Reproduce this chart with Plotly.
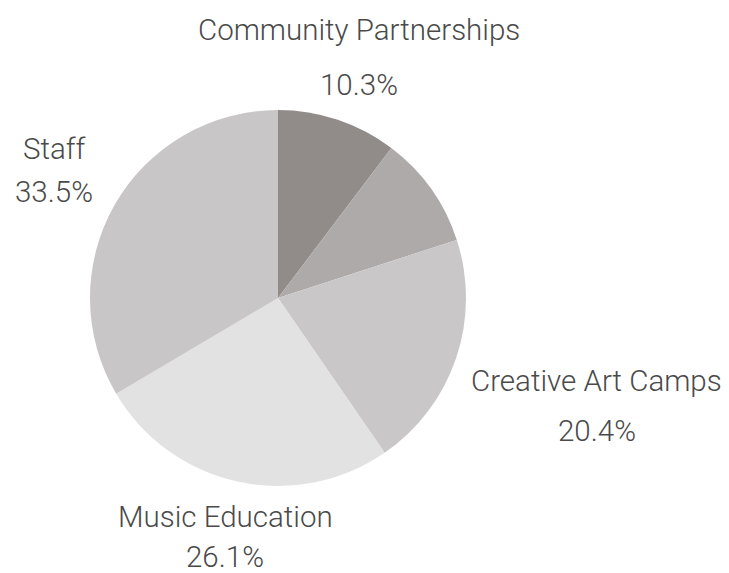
import math
import plotly.graph_objects as go

labels = ["Community Partnerships", "Other", "Creative Art Camps", "Music Education", "Staff"]
values = [10.3, 9.7, 20.4, 26.1, 33.5]
colors = ["#918b8a", "#aeaaaa", "#c9c7c7", "#e2e2e2", "#c8c6c7"]
show_label = [True, False, True, True, True]

# layout parameters for the outside labels (radius as multiple of pie radius, line gap px)
label_radius = [1.35, 1.35, 1.79, 1.30, 1.37]
label_gap = [55, 50, 50, 40, 43]

W, H = 729, 573
CX, CY, R = 270, 290, 188
FONT = dict(family="Roboto, 'Open Sans', sans-serif", size=29.5, color="#4a4a4a", weight=300)

fig = go.Figure(go.Pie(
    labels=labels,
    values=values,
    sort=False,
    direction="clockwise",
    rotation=0,
    marker=dict(colors=colors, line=dict(width=0)),
    textinfo="none",
    hoverinfo="label+percent",
    showlegend=False,
    domain=dict(x=[(CX - R) / W, (CX + R) / W], y=[(H - CY - R) / H, (H - CY + R) / H]),
))

total = sum(values)
cum = 0.0
annotations = []
for lab, v, show, rf, gap in zip(labels, values, show_label, label_radius, label_gap):
    mid = (cum + v / 2) / total * 2 * math.pi
    cum += v
    if not show:
        continue
    px = CX + rf * R * math.sin(mid)
    py = CY - rf * R * math.cos(mid)
    pct = f"{v / total * 100:.1f}%"
    for txt, yy in ((lab, py - gap / 2), (pct, py + gap / 2)):
        annotations.append(dict(
            x=px / W, y=1 - yy / H, xref="paper", yref="paper",
            text=txt, showarrow=False, xanchor="center", yanchor="middle",
            font=FONT,
        ))

fig.update_layout(
    width=W, height=H,
    margin=dict(l=0, r=0, t=0, b=0),
    paper_bgcolor="white",
    plot_bgcolor="white",
    annotations=annotations,
)

fig.write_html("out.html")
